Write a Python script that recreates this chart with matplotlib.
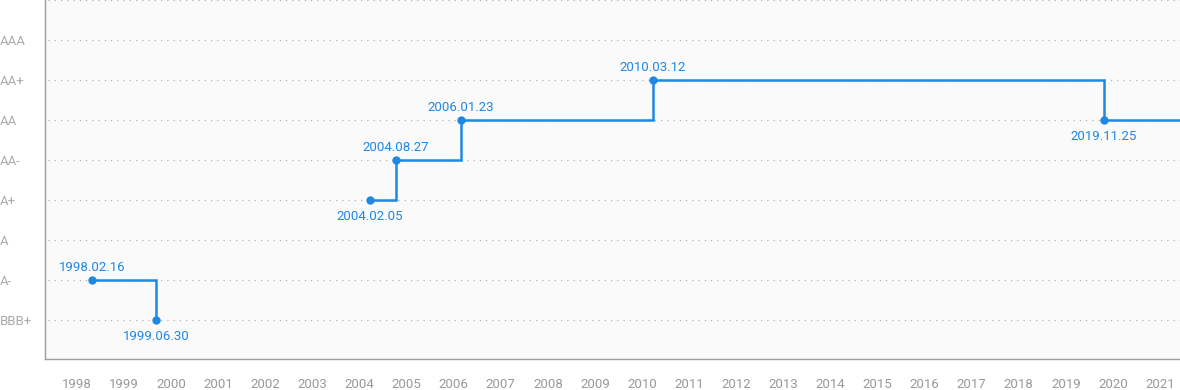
import matplotlib
matplotlib.use("Agg")
import matplotlib.pyplot as plt
import datetime as dt

plt.rcParams['font.family'] = ['Roboto', 'DejaVu Sans']

# ---- data ----
grades = ["BBB+", "A-", "A", "A+", "AA-", "AA", "AA+", "AAA"]
dates = ["1998.02.16", "1999.06.30", "2004.02.05", "2004.08.27",
         "2006.01.23", "2010.03.12", "2019.11.25"]
ratings = ["A-", "BBB+", "A+", "AA-", "AA", "AA+", "AA"]
segment = [0, 0, 1, 1, 1, 1, 1]          # separate rating runs
label_pos = ["above", "below", "below", "above", "above", "above", "below"]
years = list(range(1998, 2022))

BLUE = "#1e88e5"
GRAY = "#9e9e9e"


def frac_year(s):
    d = dt.datetime.strptime(s, "%Y.%m.%d")
    start = dt.datetime(d.year, 1, 1)
    end = dt.datetime(d.year + 1, 1, 1)
    return d.year + (d - start).total_seconds() / (end - start).total_seconds()


xs = [frac_year(s) for s in dates]
ys = [grades.index(r) for r in ratings]

fig = plt.figure(figsize=(11.8, 3.9), dpi=100)
ax = fig.add_axes([45 / 1180, 31 / 390, 1135 / 1180, 359 / 390])
ax.set_facecolor("#fafafa")

XMIN, XMAX = 1997.104, 2021.545
ax.set_xlim(XMIN, XMAX)
ax.set_ylim(-0.975, 8)

# grid lines
for g in range(0, 9):
    ax.axhline(g, xmin=3 / 1135, color="#b0b0b0", lw=0.9, ls=(0, (1, 4)), zorder=1)

# step lines per segment
for sid in sorted(set(segment)):
    idx = [i for i, s in enumerate(segment) if s == sid]
    sx = [xs[i] for i in idx]
    sy = [ys[i] for i in idx]
    if sid == max(segment):
        sx = sx + [XMAX]
        sy = sy + [sy[-1]]
    ax.step(sx, sy, where="post", color=BLUE, lw=1.8, zorder=3,
            solid_joinstyle="miter")

ax.scatter(xs, ys, s=36, color=BLUE, zorder=4, linewidths=0)

for x, y, lab, pos in zip(xs, ys, dates, label_pos):
    if pos == "above":
        ax.annotate(lab, (x, y), xytext=(0, 4), textcoords="offset points",
                    ha="center", va="bottom", color=BLUE, fontsize=9.5)
    else:
        ax.annotate(lab, (x, y), xytext=(0, -7), textcoords="offset points",
                    ha="center", va="top", color=BLUE, fontsize=9.5)

# y ticks
ax.set_yticks(range(len(grades)))
ax.set_yticklabels(grades)
for t in ax.get_yticklabels():
    t.set_horizontalalignment("left")
    t.set_color("#aaaaaa")
    t.set_fontsize(9.5)
ax.tick_params(axis="y", length=0, pad=32.4)

# x ticks (label positions slightly before year start, as in reference)
xt = [1997.793 + 1.014 * (yr - years[0]) for yr in years]
ax.set_xticks(xt)
ax.set_xticklabels([str(y) for y in years])
ax.tick_params(axis="x", length=0, pad=13.5, labelcolor="#999999", labelsize=9.5)

for side in ["top", "right"]:
    ax.spines[side].set_visible(False)
for side in ["left", "bottom"]:
    ax.spines[side].set_color(GRAY)
    ax.spines[side].set_linewidth(1.0)

fig.savefig("out.png", dpi=100, facecolor="white")
